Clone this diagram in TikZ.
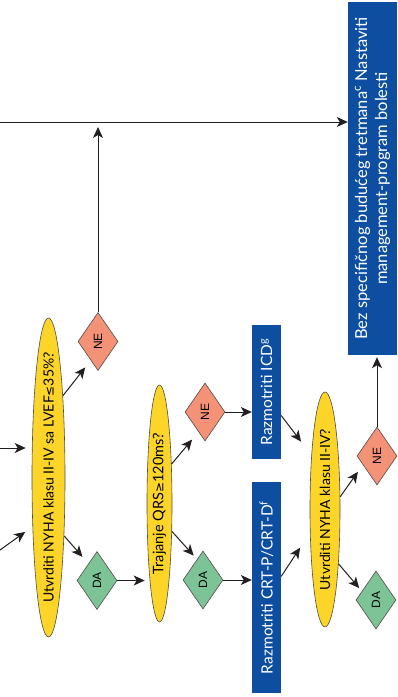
\documentclass[tikz,border=0pt]{standalone}
\usepackage{fontspec}
\setmainfont{Lato}
\newfontfamily\tagfont{Liberation Sans}
\newfontfamily\symfont{DejaVu Sans}
\usetikzlibrary{shapes.geometric,arrows.meta}

\definecolor{qyellow}{RGB}{253,212,40}
\definecolor{nosalmon}{RGB}{243,146,118}
\definecolor{yesgreen}{RGB}{124,196,150}
\definecolor{actblue}{RGB}{13,78,160}
\definecolor{arrowink}{RGB}{35,31,32}
\definecolor{edgeink}{RGB}{80,76,70}

% keep long questions from widening their ellipses
\newcommand\flatlabel[1]{\makebox[0pt]{#1}}

\tikzset{
  question/.style={ellipse, draw=edgeink, line width=0.6pt, fill=qyellow,
    inner sep=0pt, rotate=90, font=\fontsize{14}{16}\selectfont},
  choicebox/.style={diamond, draw=edgeink, line width=0.6pt, inner sep=0pt,
    minimum width=58pt, minimum height=40pt, rotate=90,
    font=\tagfont\fontsize{12}{13}\selectfont},
  yesbox/.style={choicebox, fill=yesgreen},
  nobox/.style={choicebox, fill=nosalmon},
  actionbox/.style={rectangle, fill=actblue, text=white, inner sep=0pt,
    rotate=90, align=center, font=\fontsize{15.5}{19.5}\selectfont},
  flow/.style={-{Stealth[length=11pt,width=10pt,inset=3pt]},
    line width=1pt, draw=arrowink},
}

\begin{document}
\begin{tikzpicture}[x=1pt,y=-1pt]
\useasboundingbox (0,0) rectangle (397,697);

% questions
\node[question, minimum width=319pt, minimum height=33pt] (q1) at (48.5,477.5)
  {\flatlabel{Utvrditi NYHA klasu II-IV sa LVEF{\symfont\fontsize{12}{13}\selectfont ≤}35\%?}};
\node[question, minimum width=237pt, minimum height=25pt, font=\fontsize{14.5}{16}\selectfont] (q2) at (159.5,503.5)
  {\flatlabel{Trajanje QRS{\symfont\fontsize{12}{13}\selectfont ≥}120ms?}};
\node[question, minimum width=235pt, minimum height=30pt] (q3) at (325,509.5)
  {\flatlabel{Utvrditi NYHA klasu II-IV?}};

% answers
\node[nobox]  (ne1) at (98,341.5) {NE};
\node[yesbox] (da1) at (97,580.5) {DA};
\node[nobox]  (ne2) at (205,412)  {NE};
\node[yesbox] (da2) at (203,580)  {DA};
\node[nobox]  (ne3) at (377,456)  {NE};
\node[yesbox] (da3) at (376,600)  {DA};

% actions
\node[actionbox, minimum width=134pt, minimum height=29pt] (icd) at (266.5,392)
  {Razmotriti ICD\textsuperscript{g}};
\node[actionbox, minimum width=211pt, minimum height=29pt] (crt) at (266.5,587.5)
  {Razmotriti CRT-P/CRT-D\textsuperscript{f}};
\node[actionbox, minimum width=353pt, minimum height=49pt,
      font=\fontsize{16.5}{20}\selectfont] (none) at (372.5,178.5)
  {Bez specifičnog budućeg tretmana\textsuperscript{c} Nastaviti\\management-program bolesti};

% entries from the left
\coordinate (inTop) at (0,122);
\coordinate (inMid) at (0,448);
\coordinate (inLow) at (0,550);
\draw[flow] (inTop) -- (inTop -| none.north);
\draw[flow, shorten >=6pt] (inMid) -- (inMid -| q1.north);
\draw[flow, shorten >=9pt] (inLow) -- (q1.162);

% first question
\draw[flow, shorten >=9pt] (q1.-10) -- (ne1.159);
\draw[flow, shorten >=9pt] (q1.195.6) -- (da1.27);
\draw[flow, shorten >=5pt] (ne1.east) -- (ne1.east |- inTop);
\draw[flow, shorten >=2pt] (da1.south) -- (da1.south -| q2.north);

% QRS question
\draw[flow, shorten >=10pt] (q2.-17) -- (ne2.162.3);
\draw[flow, shorten >=5pt] (q2.204.7) -- (da2.16.1);
\draw[flow] (ne2.south) -- (ne2.south -| icd.north);
\draw[flow] (da2.south) -- (da2.south -| crt.north);

% devices to NYHA question
\draw[flow, shorten >=17pt] (icd.212.2) -- (q3.14.1);
\draw[flow, shorten >=18pt] (crt.-53.3) -- (q3.147.3);

% NYHA question
\draw[flow, shorten >=8.5pt] (q3.-50) -- (ne3.122.9);
\draw[flow, shorten >=4pt] (q3.194.4) -- (da3.58);
\draw[flow, shorten >=2pt] (ne3.east) -- (ne3.east |- none.west);
\end{tikzpicture}
\end{document}
